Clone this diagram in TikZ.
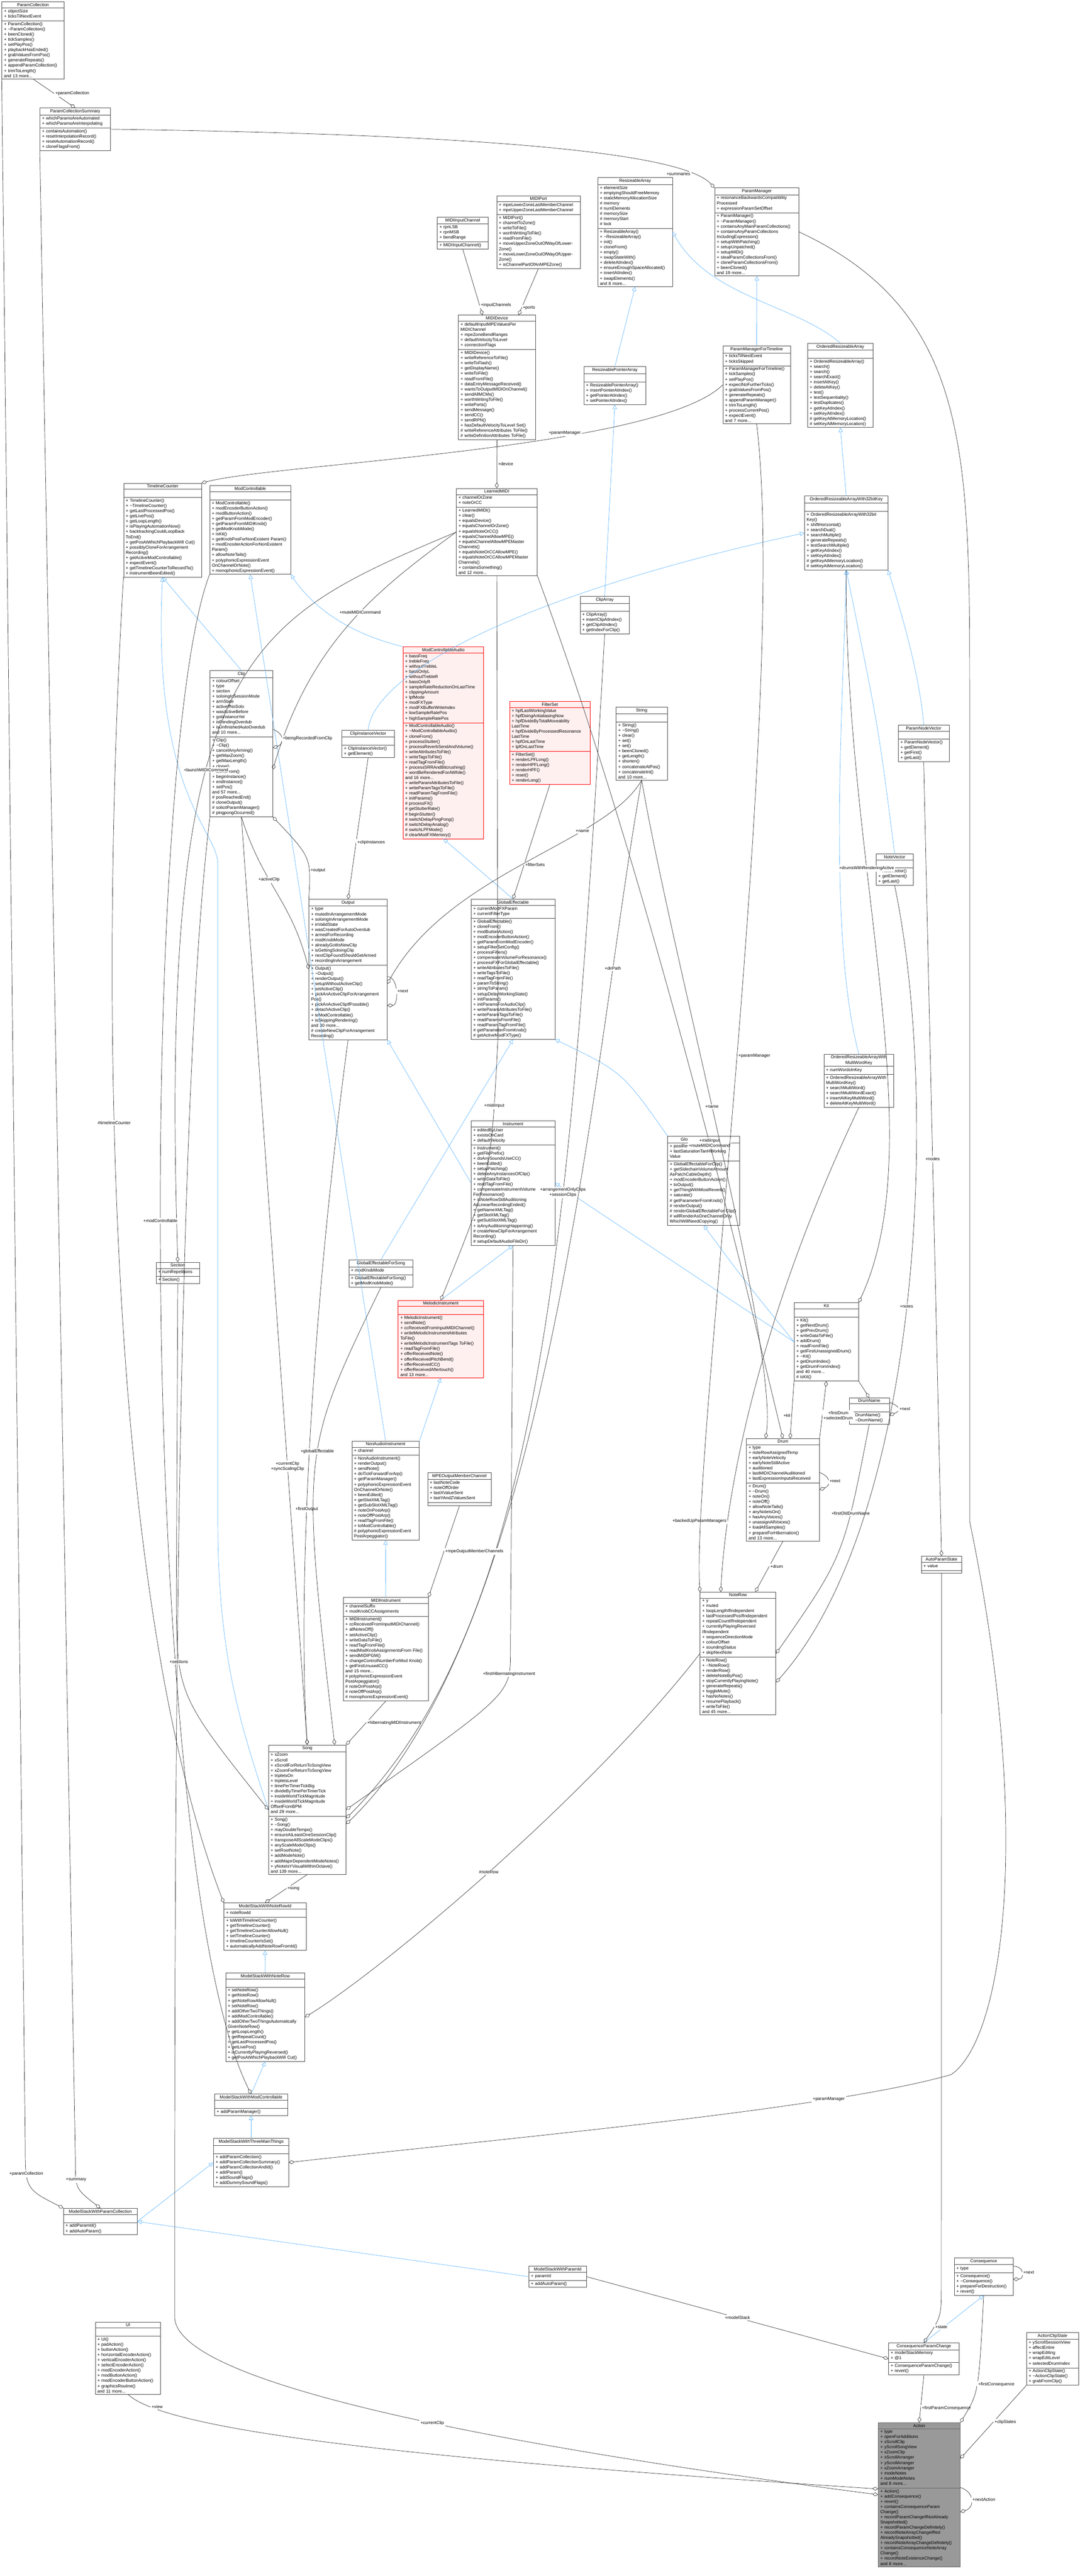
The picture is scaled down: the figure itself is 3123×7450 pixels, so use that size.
\documentclass[tikz,border=0pt]{standalone}
\usepackage{fontspec}
\setmainfont{Liberation Sans}
\usetikzlibrary{arrows.meta}
\usetikzlibrary{shapes.multipart}
\definecolor{inhblue}{RGB}{99,184,255}
\definecolor{redfill}{RGB}{255,240,240}
\definecolor{actgray}{RGB}{153,153,153}
\newcommand\umlbox[7][]{%
  \pgfmathsetmacro\umlw{#4*0.24-3}%
  \node[umlclass,text width=\umlw pt,#1] (#2) at (#3)
    {\centering #5\par\nodepart{second}\raggedright #6\strut\par\nodepart{third}\raggedright #7\par};}
\newcommand\tl{\textasciitilde}

\begin{document}
\begin{tikzpicture}[x=0.24pt,y=-0.24pt,
  umlclass/.style={rectangle split,rectangle split parts=3,draw=black!70,fill=white,
    line width=0.25pt,anchor=north west,inner xsep=1.5pt,inner ysep=0.9pt,
    font=\fontsize{3}{3.6}\selectfont},
  redclass/.style={draw=red,fill=redfill},
  grayclass/.style={fill=actgray,draw=black!60},
  agg/.style={draw=black!80,line width=0.25pt,-{Diamond[open,length=4pt,width=2.6pt]}},
  inh/.style={draw=inhblue,line width=0.25pt,-{Triangle[open,length=3pt,width=3pt]}},
  lab/.style={font=\fontsize{3}{3.6}\selectfont,inner sep=0.8pt,fill=white,align=center}]
\fill[white] (0,0) rectangle (3123,7450);

%Classes: top row
\umlbox{pcoll}{5,5}{180}{ParamCollection}{+ objectSize\\+ ticksTilNextEvent}{+ ParamCollection()\\+ \tl ParamCollection()\\+ beenCloned()\\+ tickSamples()\\+ setPlayPos()\\+ playbackHasEnded()\\+ grabValuesFromPos()\\+ generateRepeats()\\+ appendParamCollection()\\+ trimToLength()\\and 13 more...}
\umlbox{pcsum}{115,312}{204}{ParamCollectionSummary}{+ whichParamsAreAutomated\\+ whichParamsAreInterpolating}{+ containsAutomation()\\+ resetInterpolationRecord()\\+ resetAutomationRecord()\\+ cloneFlagsFrom()}
\umlbox{midiinch}{1264,627}{147}{MIDIInputChannel}{+ rpnLSB\\+ rpnMSB\\+ bendRange}{+ MIDIInputChannel()}
\umlbox{midiport}{1436,566}{241}{MIDIPort}{+ mpeLowerZoneLastMemberChannel\\+ mpeUpperZoneLastMemberChannel}{+ MIDIPort()\\+ channelToZone()\\+ writeToFile()\\+ worthWritingToFile()\\+ readFromFile()\\+ moveUpperZoneOutOfWayOfLowerZone()\\+ moveLowerZoneOutOfWayOfUpperZone()\\+ isChannelPartOfAnMPEZone()}
\umlbox{resarr}{1728,513}{216}{ResizeableArray}{+ elementSize\\+ emptyingShouldFreeMemory\\+ staticMemoryAllocationSize\\\# memory\\\# numElements\\\# memorySize\\\# memoryStart\\\# lock}{+ ResizeableArray()\\+ \tl ResizeableArray()\\+ init()\\+ cloneFrom()\\+ empty()\\+ swapStateWith()\\+ deleteAtIndex()\\+ ensureEnoughSpaceAllocated()\\+ insertAtIndex()\\+ swapElements()\\and 8 more...}
\umlbox{pmgr}{2066,543}{244}{ParamManager}{+ resonanceBackwardsCompatibility Processed\\+ expressionParamSetOffset}{+ ParamManager()\\+ \tl ParamManager()\\+ containsAnyMainParamCollections()\\+ containsAnyParamCollections IncludingExpression()\\+ setupWithPatching()\\+ setupUnpatched()\\+ setupMIDI()\\+ stealParamCollectionsFrom()\\+ cloneParamCollectionsFrom()\\+ beenCloned()\\and 19 more...}
\umlbox{mididev}{1325,911}{223}{MIDIDevice}{+ defaultInputMPEValuesPer MIDIChannel\\+ mpeZoneBendRanges\\+ defaultVelocityToLevel\\+ connectionFlags}{+ MIDIDevice()\\+ writeReferenceToFile()\\+ writeToFlash()\\+ getDisplayName()\\+ writeToFile()\\+ readFromFile()\\+ dataEntryMessageReceived()\\+ wantsToOutputMIDIOnChannel()\\+ sendAllMCMs()\\+ worthWritingToFile()\\+ writePorts()\\+ sendMessage()\\+ sendCC()\\+ sendRPN()\\+ hasDefaultVelocityToLevel Set()\\\# writeReferenceAttributes ToFile()\\\# writeDefinitionAttributes ToFile()}
\umlbox{pmft}{2090,1000}{195}{ParamManagerForTimeline}{+ ticksTilNextEvent\\+ ticksSkipped}{+ ParamManagerForTimeline()\\+ tickSamples()\\+ setPlayPos()\\+ expectNoFurtherTicks()\\+ grabValuesFromPos()\\+ generateRepeats()\\+ appendParamManager()\\+ trimToLength()\\+ processCurrentPos()\\+ expectEvent()\\and 7 more...}
\umlbox{ora}{2335,992}{189}{OrderedResizeableArray}{}{+ OrderedResizeableArray()\\+ search()\\+ search()\\+ searchExact()\\+ insertAtKey()\\+ deleteAtKey()\\+ test()\\+ testSequentiality()\\+ testDuplicates()\\+ getKeyAtIndex()\\+ setKeyAtIndex()\\\# getKeyAtMemoryLocation()\\\# setKeyAtMemoryLocation()}
\umlbox{rpa}{1688,1060}{179}{ResizeablePointerArray}{}{+ ResizeablePointerArray()\\+ insertPointerAtIndex()\\+ getPointerAtIndex()\\+ setPointerAtIndex()}
\umlbox{learned}{1319,1412}{234}{LearnedMIDI}{+ channelOrZone\\+ noteOrCC}{+ LearnedMIDI()\\+ clear()\\+ equalsDevice()\\+ equalsChannelOrZone()\\+ equalsNoteOrCC()\\+ equalsChannelAllowMPE()\\+ equalsChannelAllowMPEMaster Channels()\\+ equalsNoteOrCCAllowMPE()\\+ equalsNoteOrCCAllowMPEMaster Channels()\\+ containsSomething()\\and 12 more...}
\umlbox{tlc}{357,1397}{225}{TimelineCounter}{}{+ TimelineCounter()\\+ \tl TimelineCounter()\\+ getLastProcessedPos()\\+ getLivePos()\\+ getLoopLength()\\+ isPlayingAutomationNow()\\+ backtrackingCouldLoopBack ToEnd()\\+ getPosAtWhichPlaybackWill Cut()\\+ possiblyCloneForArrangement Recording()\\+ getActiveModControllable()\\+ expectEvent()\\+ getTimelineCounterToRecordTo()\\+ instrumentBeenEdited()}
\umlbox{modctl}{606,1404}{234}{ModControllable}{}{+ ModControllable()\\+ modEncoderButtonAction()\\+ modButtonAction()\\+ getParamFromModEncoder()\\+ getParamFromMIDIKnob()\\+ getModKnobMode()\\+ isKit()\\+ getKnobPosForNonExistent Param()\\+ modEncoderActionForNonExistent Param()\\+ allowNoteTails()\\+ polyphonicExpressionEvent OnChannelOrNote()\\+ monophonicExpressionEvent()}
\umlbox{ora32}{2326,1434}{241}{OrderedResizeableArrayWith32bitKey}{}{+ OrderedResizeableArrayWith32bit Key()\\+ shiftHorizontal()\\+ searchDual()\\+ searchMultiple()\\+ generateRepeats()\\+ testSearchMultiple()\\+ getKeyAtIndex()\\+ setKeyAtIndex()\\\# getKeyAtMemoryLocation()\\\# setKeyAtMemoryLocation()}
\umlbox{cliparr}{1677,1724}{142}{ClipArray}{}{+ ClipArray()\\+ insertClipAtIndex()\\+ getClipAtIndex()\\+ getIndexForClip()}

%Classes: middle band
\umlbox{clip}{607,1939}{181}{Clip}{+ colourOffset\\+ type\\+ section\\+ soloingInSessionMode\\+ armState\\+ activeIfNoSolo\\+ wasActiveBefore\\+ gotInstanceYet\\+ isPendingOverdub\\+ isUnfinishedAutoOverdub\\and 10 more...}{+ Clip()\\+ \tl Clip()\\+ cancelAnyArming()\\+ getMaxZoom()\\+ getMaxLength()\\+ clone()\\+ cloneFrom()\\+ beginInstance()\\+ endInstance()\\+ setPos()\\and 57 more...\\\# posReachedEnd()\\\# cloneOutput()\\\# solicitParamManager()\\\# pingpongOccurred()}
\umlbox[redclass]{mca}{1165,1870}{233}{ModControllableAudio}{+ bassFreq\\+ trebleFreq\\+ withoutTrebleL\\+ bassOnlyL\\+ withoutTrebleR\\+ bassOnlyR\\+ sampleRateReductionOnLastTime\\+ clippingAmount\\+ lpfMode\\+ modFXType\\+ modFXBufferWriteIndex\\+ lowSampleRatePos\\+ highSampleRatePos}{+ ModControllableAudio()\\+ \tl ModControllableAudio()\\+ cloneFrom()\\+ processStutter()\\+ processReverbSendAndVolume()\\+ writeAttributesToFile()\\+ writeTagsToFile()\\+ readTagFromFile()\\+ processSRRAndBitcrushing()\\+ wontBeRenderedForAWhile()\\and 16 more...\\+ writeParamAttributesToFile()\\+ writeParamTagsToFile()\\+ readParamTagFromFile()\\+ initParams()\\\# processFX()\\\# getStutterRate()\\\# beginStutter()\\\# switchDelayPingPong()\\\# switchDelayAnalog()\\\# switchLPFMode()\\\# clearModFXMemory()}
\umlbox[redclass]{filterset}{1473,2028}{233}{FilterSet}{+ hpfLastWorkingValue\\+ hpfDoingAntialiasingNow\\+ hpfDivideByTotalMoveability LastTime\\+ hpfDivideByProcessedResonance LastTime\\+ hpfOnLastTime\\+ lpfOnLastTime}{+ FilterSet()\\+ renderLPFLong()\\+ renderHPFLong()\\+ renderHPF()\\+ reset()\\+ renderLong()}
\umlbox{string}{1781,2044}{148}{String}{}{+ String()\\+ \tl String()\\+ clear()\\+ set()\\+ set()\\+ beenCloned()\\+ getLength()\\+ shorten()\\+ concatenateAtPos()\\+ concatenateInt()\\and 10 more...}
\umlbox{civ}{988,2111}{152}{ClipInstanceVector}{}{+ ClipInstanceVector()\\+ getElement()}
\umlbox{pnv}{2597,2096}{147}{ParamNodeVector}{}{+ ParamNodeVector()\\+ getElement()\\+ getFirst()\\+ getLast()}
\umlbox{notevec}{2533,2469}{107}{NoteVector}{}{+ NoteVector()\\+ getElement()\\+ getLast()}
\umlbox{output}{893,2600}{226}{Output}{+ type\\+ mutedInArrangementMode\\+ soloingInArrangementMode\\+ inValidState\\+ wasCreatedForAutoOverdub\\+ armedForRecording\\+ modKnobMode\\+ alreadyGotItsNewClip\\+ isGettingSoloingClip\\+ nextClipFoundShouldGetArmed\\+ recordingInArrangement}{+ Output()\\+ \tl Output()\\+ renderOutput()\\+ setupWithoutActiveClip()\\+ setActiveClip()\\+ pickAnActiveClipForArrangement Pos()\\+ pickAnActiveClipIfPossible()\\+ detachActiveClip()\\+ toModControllable()\\+ isSkippingRendering()\\and 30 more...\\\# createNewClipForArrangement Recording()}
\umlbox{geff}{1362,2600}{242}{GlobalEffectable}{+ currentModFXParam\\+ currentFilterType}{+ GlobalEffectable()\\+ cloneFrom()\\+ modButtonAction()\\+ modEncoderButtonAction()\\+ getParamFromModEncoder()\\+ setupFilterSetConfig()\\+ processFilters()\\+ compensateVolumeForResonance()\\+ processFXForGlobalEffectable()\\+ writeAttributesToFile()\\+ writeTagsToFile()\\+ readTagFromFile()\\+ paramToString()\\+ stringToParam()\\+ setupDelayWorkingState()\\+ initParams()\\+ initParamsForAudioClip()\\+ writeParamAttributesToFile()\\+ writeParamTagsToFile()\\+ readParamsFromFile()\\+ readParamTagFromFile()\\\# getParameterFromKnob()\\\# getActiveModFXType()}
\umlbox{oramw}{2382,3048}{202}{OrderedResizeableArrayWith MultiWordKey}{+ numWordsInKey}{+ OrderedResizeableArrayWith MultiWordKey()\\+ searchMultiWord()\\+ searchMultiWordExact()\\+ insertAtKeyMultiWord()\\+ deleteAtKeyMultiWord()}
\umlbox{instr}{1362,3241}{242}{Instrument}{+ editedByUser\\+ existsOnCard\\+ defaultVelocity}{+ Instrument()\\+ getFilePrefix()\\+ doAnySoundsUseCC()\\+ beenEdited()\\+ setupPatching()\\+ deleteAnyInstancesOfClip()\\+ writeDataToFile()\\+ readTagFromFile()\\+ compensateInstrumentVolume ForResonance()\\+ isNoteRowStillAuditioning AsLinearRecordingEnded()\\+ getNameXMLTag()\\+ getSlotXMLTag()\\+ getSubSlotXMLTag()\\+ isAnyAuditioningHappening()\\\# createNewClipForArrangement Recording()\\\# setupDefaultAudioFileDir()}
\umlbox{gefclip}{1930,3285}{208}{GlobalEffectableForClip}{+ postReverbVolumeLastTime\\+ lastSaturationTanHWorking Value}{+ GlobalEffectableForClip()\\+ getSidechainVolumeAmount AsPatchCableDepth()\\+ modEncoderButtonAction()\\+ toOutput()\\+ getThingWithMostReverb()\\+ saturate()\\\# getParameterFromKnob()\\\# renderOutput()\\\# renderGlobalEffectableFor Clip()\\\# willRenderAsOneChannelOnly WhichWillNeedCopying()}
\umlbox{section}{451,3650}{125}{Section}{+ numRepetitions}{+ Section()}
\umlbox{gefsong}{1008,3643}{186}{GlobalEffectableForSong}{+ modKnobMode}{+ GlobalEffectableForSong()\\+ getModKnobMode()}
\umlbox[redclass]{melodic}{1151,3760}{246}{MelodicInstrument}{}{+ MelodicInstrument()\\+ sendNote()\\+ ccReceivedFromInputMIDIChannel()\\+ writeMelodicInstrumentAttributes ToFile()\\+ writeMelodicInstrumentTags ToFile()\\+ readTagFromFile()\\+ offerReceivedNote()\\+ offerReceivedPitchBend()\\+ offerReceivedCC()\\+ offerReceivedAftertouch()\\and 13 more...}
\umlbox{kit}{2296,3767}{186}{Kit}{}{+ Kit()\\+ getNextDrum()\\+ getPrevDrum()\\+ writeDataToFile()\\+ addDrum()\\+ readFromFile()\\+ getFirstUnassignedDrum()\\+ \tl Kit()\\+ getDrumIndex()\\+ getDrumFromIndex()\\and 40 more...\\\# isKit()}

%Classes: lower band
\umlbox{drumname}{2455,4042}{116}{DrumName}{}{+ DrumName()\\+ \tl DrumName()}
\umlbox{nonaudio}{1017,4167}{195}{NonAudioInstrument}{+ channel}{+ NonAudioInstrument()\\+ renderOutput()\\+ sendNote()\\+ doTickForwardForArp()\\+ getParamManager()\\+ polyphonicExpressionEvent OnChannelOrNote()\\+ beenEdited()\\+ getSlotXMLTag()\\+ getSubSlotXMLTag()\\+ noteOnPostArp()\\+ noteOffPostArp()\\+ readTagFromFile()\\+ toModControllable()\\\# polyphonicExpressionEvent PostArpeggiator()}
\umlbox{drum}{2158,4160}{211}{Drum}{+ type\\+ noteRowAssignedTemp\\+ earlyNoteVelocity\\+ earlyNoteStillActive\\+ auditioned\\+ lastMIDIChannelAuditioned\\+ lastExpressionInputsReceived}{+ Drum()\\+ \tl Drum()\\+ noteOn()\\+ noteOff()\\+ allowNoteTails()\\+ anyNoteIsOn()\\+ hasAnyVoices()\\+ unassignAllVoices()\\+ loadAllSamples()\\+ prepareForHibernation()\\and 13 more...}
\umlbox{mpeoch}{1236,4258}{184}{MPEOutputMemberChannel}{+ lastNoteCode\\+ noteOffOrder\\+ lastXValueSent\\+ lastYAndZValuesSent}{}
\umlbox{autops}{2664,4500}{116}{AutoParamState}{+ value}{}
\umlbox{noterow}{2024,4604}{219}{NoteRow}{+ y\\+ muted\\+ loopLengthIfIndependent\\+ lastProcessedPosIfIndependent\\+ repeatCountIfIndependent\\+ currentlyPlayingReversed IfIndependent\\+ sequenceDirectionMode\\+ colourOffset\\+ soundingStatus\\+ skipNextNote}{+ NoteRow()\\+ \tl NoteRow()\\+ renderRow()\\+ deleteNoteByPos()\\+ stopCurrentlyPlayingNote()\\+ generateRepeats()\\+ toggleMute()\\+ hasNoNotes()\\+ resumePlayback()\\+ writeToFile()\\and 45 more...}
\umlbox{midiinstr}{992,4619}{246}{MIDIInstrument}{+ channelSuffix\\+ modKnobCCAssignments}{+ MIDIInstrument()\\+ ccReceivedFromInputMIDIChannel()\\+ allNotesOff()\\+ setActiveClip()\\+ writeDataToFile()\\+ readTagFromFile()\\+ readModKnobAssignmentsFrom File()\\+ sendMIDIPGM()\\+ changeControlNumberForMod Knob()\\+ getFirstUnusedCC()\\and 15 more...\\\# polyphonicExpressionEvent PostArpeggiator()\\\# noteOnPostArp()\\\# noteOffPostArp()\\\# monophonicExpressionEvent()}
\umlbox{song}{776,5046}{224}{Song}{+ xZoom\\+ xScroll\\+ xScrollForReturnToSongView\\+ xZoomForReturnToSongView\\+ tripletsOn\\+ tripletsLevel\\+ timePerTimerTickBig\\+ divideByTimePerTimerTick\\+ insideWorldTickMagnitude\\+ insideWorldTickMagnitude OffsetFromBPM\\and 29 more...}{+ Song()\\+ \tl Song()\\+ mayDoubleTempo()\\+ ensureAtLeastOneSessionClip()\\+ transposeAllScaleModeClips()\\+ anyScaleModeClips()\\+ setRootNote()\\+ addModeNote()\\+ addMajorDependentModeNotes()\\+ yNoteIsYVisualWithinOctave()\\and 139 more...}
\umlbox{msnrid}{647,5503}{238}{ModelStackWithNoteRowId}{+ noteRowId}{+ toWithTimelineCounter()\\+ getTimelineCounter()\\+ getTimelineCounterAllowNull()\\+ setTimelineCounter()\\+ timelineCounterIsSet()\\+ automaticallyAddNoteRowFromId()}
\umlbox{msnr}{652,5705}{229}{ModelStackWithNoteRow}{}{+ setNoteRow()\\+ getNoteRow()\\+ getNoteRowAllowNull()\\+ setNoteRow()\\+ addOtherTwoThings()\\+ addModControllable()\\+ addOtherTwoThingsAutomatically GivenNoteRow()\\+ getLoopLength()\\+ getRepeatCount()\\+ getLastProcessedPos()\\+ getLivePos()\\+ isCurrentlyPlayingReversed()\\+ getPosAtWhichPlaybackWill Cut()}
\umlbox{msmc}{620,6056}{211}{ModelStackWithModControllable}{}{+ addParamManager()}
\umlbox{ms3}{617,6184}{217}{ModelStackWithThreeMainThings}{}{+ addParamCollection()\\+ addParamCollectionSummary()\\+ addParamCollectionAndId()\\+ addParam()\\+ addSoundFlags()\\+ addDummySoundFlags()}
\umlbox{mspc}{183,6386}{213}{ModelStackWithParamCollection}{}{+ addParamId()\\+ addAutoParam()}
\umlbox{conseq}{2759,6529}{170}{Consequence}{+ type}{+ Consequence()\\+ \tl Consequence()\\+ prepareForDestruction()\\+ revert()}
\umlbox{mspid}{1529,6553}{166}{ModelStackWithParamId}{+ paramId}{+ addAutoParam()}
\umlbox{ui}{275,6715}{189}{UI}{}{+ UI()\\+ padAction()\\+ buttonAction()\\+ horizontalEncoderAction()\\+ verticalEncoderAction()\\+ selectEncoderAction()\\+ modEncoderAction()\\+ modButtonAction()\\+ modEncoderButtonAction()\\+ graphicsRoutine()\\and 11 more...}
\umlbox{acs}{2968,6745}{150}{ActionClipState}{+ yScrollSessionView\\+ affectEntire\\+ wrapEditing\\+ wrapEditLevel\\+ selectedDrumIndex}{+ ActionClipState()\\+ \tl ActionClipState()\\+ grabFromClip()}
\umlbox{cpc}{2569,6775}{204}{ConsequenceParamChange}{+ modelStackMemory\\+ @1}{+ ConsequenceParamChange()\\+ revert()}
\umlbox[grayclass]{action}{2539,7006}{237}{Action}{+ type\\+ openForAdditions\\+ xScrollClip\\+ yScrollSongView\\+ xZoomClip\\+ xScrollArranger\\+ yScrollArranger\\+ xZoomArranger\\+ modeNotes\\+ numModeNotes\\and 8 more...}{+ Action()\\+ addConsequence()\\+ revert()\\+ containsConsequenceParam Change()\\+ recordParamChangeIfNotAlready Snapshotted()\\+ recordParamChangeDefinitely()\\+ recordNoteArrayChangeIfNot AlreadySnapshotted()\\+ recordNoteArrayChangeDefinitely()\\+ containsConsequenceNoteArray Change()\\+ recordNoteExistenceChange()\\and 8 more...}

%Inheritance
\draw[inh] (rpa.north) -- (resarr.south);
\draw[inh] (cliparr.north) -- (rpa.south);
\draw[inh] (pmft.north) -- (pmgr.south);
\draw[inh] (ora.north) .. controls (2300,880) and (2050,860) .. (resarr.east);
\draw[inh] (ora32.north) -- (ora.south);
\draw[inh] (pnv.north) .. controls (2660,1950) and (2600,1750) .. (ora32.south east);
\draw[inh] (notevec.north) .. controls (2540,2100) .. (ora32.south);
\draw[inh] (oramw.north) .. controls (2390,2700) and (2440,2000) .. (ora32.south);
\draw[inh] (civ.north) .. controls (1080,1950) and (1500,1720) .. (ora32.west);
\draw[inh] (clip.north) -- (tlc.south);
\draw[inh] (song.west) .. controls (700,5000) and (630,4800) .. (630,4400) -- (630,2500) .. controls (630,2400) and (440,2300) .. (tlc.south);
\draw[inh] (mca.north west) .. controls (1000,1830) and (900,1750) .. (modctl.south east);
\draw[inh] (nonaudio.north) -- (modctl.south);
\draw[inh] (nonaudio.north east) -- (melodic.south);
\draw[inh] (melodic.north) -- (instr.south);
\draw[inh] (instr.west) -- (output.south east);
\draw[inh] (geff.north) -- (mca.south);
\draw[inh] (gefsong.north) -- (geff.south);
\draw[inh] (gefclip.north west) .. controls (1800,3100) .. (geff.south east);
\draw[inh] (kit.west) .. controls (2150,3700) .. (gefclip.south);
\draw[inh] (kit.west) -- (instr.east);
\draw[inh] (midiinstr.north) -- (nonaudio.south);
\draw[inh] (msnr.north) -- (msnrid.south);
\draw[inh] (msmc.north) -- (msnr.south);
\draw[inh] (ms3.north) -- (msmc.south);
\draw[inh] (mspc.east) -- (ms3.west);
\draw[inh] (mspid.west) -- (mspc.east);
\draw[inh] (cpc.north) -- (conseq.south);

%Aggregation
\draw[agg] (pcoll.south) -- (pcsum.north) node[lab,right,pos=0.5]{+paramCollection};
\draw[agg] (pcsum.east) .. controls (1500,390) and (1980,450) .. (pmgr.north west) node[lab,pos=0.85,left]{+summaries};
\draw[agg] (midiinch.south) -- ([xshift=-10pt]mididev.north) node[lab,pos=0.85,right]{+inputChannels};
\draw[agg] (midiport.south) -- ([xshift=15pt]mididev.north) node[lab,pos=0.85,right]{+ports};
\draw[agg] (mididev.south) -- (learned.north) node[lab,pos=0.5,right]{+device};
\draw[agg] (pmft.west) .. controls (1900,1300) and (800,1340) .. (tlc.north east) node[lab,pos=0.35,above]{+paramManager};
\draw[agg] (learned.west) .. controls (1100,1700) and (900,1850) .. ([yshift=-18pt]clip.east) node[lab,pos=0.45]{+muteMIDICommand};
\draw[agg] ([yshift=10pt]clip.east) .. controls +(8pt,-3pt) and +(8pt,3pt) .. ([yshift=-3pt]clip.east) node[lab,pos=0.5,right]{+beingRecordedFromClip};
\draw[agg] (clip.south) .. controls (760,2560) and (840,2600) .. (output.west) node[lab,pos=0.4]{+activeClip};
\draw[agg] (output.north west) .. controls (900,2480) .. (clip.south east) node[lab,pos=0.3,right]{+output};
\draw[agg] (civ.south) -- (output.north) node[lab,pos=0.6,right]{+clipInstances};
\draw[agg] ([yshift=-5pt]output.east) .. controls +(8pt,0pt) and +(8pt,0pt) .. ([yshift=-25pt]output.east) node[lab,pos=0.5,right]{+next};
\draw[agg] (filterset.south) -- (geff.north) node[lab,pos=0.7,right]{+filterSets};
\draw[agg] (string.south) .. controls (1750,2440) and (1300,2520) .. ([yshift=-10pt]output.east) node[lab,pos=0.3]{+name};
\draw[agg] (learned.south) -- (1440,3000) .. controls (1420,3400) .. (melodic.north) node[lab,pos=0.2]{+midiInput};
\draw[agg] (learned.west) .. controls (700,1800) and (460,1900) .. (section.north) node[lab,pos=0.6]{+launchMIDICommand};
\draw[agg] (clip.south) -- (song.north) node[lab,pos=0.7]{+currentClip\\+syncScalingClip};
\draw[agg] (pcoll.south west) -- (73,6200) .. controls (73,6330) .. (mspc.north west) node[lab,pos=0.3]{+paramCollection};
\draw[agg] (pcsum.south west) -- (218,6250) .. controls (218,6330) .. (mspc.north) node[lab,pos=0.3]{+summary};
\draw[agg] (tlc.south west) .. controls (290,2800) and (300,4600) .. (msnrid.north west) node[lab,pos=0.4]{\#timelineCounter};
\draw[agg] (modctl.south west) .. controls (400,2200) and (400,5400) .. (msmc.north) node[lab,pos=0.45]{+modControllable};
\draw[agg] (section.south) -- (510,4600) .. controls (510,4900) .. (song.west) node[lab,pos=0.3]{+sections};
\draw[agg] (output.south) .. controls (900,3800) and (860,4600) .. (song.north) node[lab,pos=0.6]{+firstOutput};
\draw[agg] (gefsong.south) .. controls (870,4200) .. ([xshift=-8pt]song.north east) node[lab,pos=0.45]{+globalEffectable};
\draw[agg] (midiinstr.south) -- (song.north east) node[lab,pos=0.5,right]{+hibernatingMIDIInstrument};
\draw[agg] (instr.south) -- (1476,4780) .. controls (1476,4900) .. (song.east) node[lab,pos=0.2]{+firstHibernatingInstrument};
\draw[agg] (cliparr.south) .. controls (1650,3600) and (1560,4700) .. ([yshift=-6pt]song.east) node[lab,pos=0.35]{+arrangementOnlyClips\\+sessionClips};
\draw[agg] (string.south) .. controls (1720,3000) and (1600,4700) .. ([yshift=-10pt]song.east) node[lab,pos=0.2]{+dirPath};
\draw[agg] (mpeoch.south) -- (midiinstr.north east) node[lab,pos=0.5,right]{+mpeOutputMemberChannels};
\draw[agg] (song.south) -- (msnrid.north) node[lab,pos=0.5,right]{+song};
\draw[agg] (noterow.west) .. controls (1700,5200) and (1100,5700) .. (msnr.east) node[lab,pos=0.5]{\#noteRow};
\draw[agg] (learned.south east) .. controls (1900,2600) and (2200,3900) .. (drum.north) node[lab,pos=0.55]{+midiInput\\+muteMIDICommand};
\draw[agg] (string.south) .. controls (1950,2800) and (2250,3900) .. ([xshift=-12pt]drum.north) node[lab,pos=0.45]{+name};
\draw[agg] (oramw.south) .. controls (2200,3800) and (2100,4300) .. ([xshift=-12pt]noterow.north) node[lab,pos=0.8,left]{+backedUpParamManagers};
\draw[agg] (pmft.south) .. controls (2280,2000) and (2000,4200) .. (noterow.north west) node[lab,pos=0.5,right]{+paramManager};
\draw[agg] (kit.south west) -- ([xshift=5pt]drum.north) node[lab,pos=0.6,left]{+kit};
\draw[agg] (drum.north east) -- (kit.south) node[lab,pos=0.4,right]{+firstDrum\\+selectedDrum};
\draw[agg] (kit.south east) -- (drumname.north);
\draw[agg] ([yshift=6pt]drumname.east) .. controls +(8pt,-3pt) and +(8pt,3pt) .. ([yshift=-3pt]drumname.east) node[lab,pos=0.5,right]{+next};
\draw[agg] ([yshift=12pt]drum.east) .. controls +(8pt,-3pt) and +(8pt,3pt) .. (drum.east) node[lab,pos=0.5,right]{+next};
\draw[agg] (drum.south) -- ([xshift=12pt]noterow.north) node[lab,pos=0.5,right]{+drum};
\draw[agg] (drumname.south) .. controls (2440,4500) .. (noterow.east) node[lab,pos=0.3]{+firstOldDrumName};
\draw[agg] (notevec.south) .. controls (2720,3200) and (2660,4400) .. ([yshift=-20pt]noterow.east) node[lab,pos=0.5]{+notes};
\draw[agg] (ora32.south) .. controls (2440,2500) and (2700,3300) .. (kit.north east) node[lab,pos=0.35]{+drumsWithRenderingActive};
\draw[agg] (pnv.south) -- (autops.north) node[lab,pos=0.5]{+nodes};
\draw[agg] (pmgr.east) .. controls (2800,900) and (2804,1300) .. (2804,2000) -- (2804,4400) .. controls (2990,5300) and (2900,5900) .. (2750,6000) .. controls (2400,6100) and (1500,6180) .. (ms3.east) node[lab,pos=0.25]{+paramManager};
\draw[agg] (autops.south) -- (2722,6600) .. controls (2722,6700) .. (cpc.north) node[lab,pos=0.75,right]{+state};
\draw[agg] (mspid.east) -- (cpc.west) node[lab,pos=0.5]{+modelStack};
\draw[agg] (cpc.south) -- (action.north) node[lab,pos=0.7,right]{+firstParamConsequence};
\draw[agg] (conseq.south) .. controls (2830,6920) .. (action.north east) node[lab,pos=0.5,right]{+firstConsequence};
\draw[agg] (acs.south west) -- ([yshift=-25pt]action.north east) node[lab,pos=0.5,right]{+clipStates};
\draw[agg] ([yshift=-6pt]conseq.north east) .. controls +(8pt,0pt) and +(8pt,0pt) .. ([yshift=-15pt]conseq.north east) node[lab,pos=0.5,right]{+next};
\draw[agg] ([yshift=5pt]action.east) .. controls +(10pt,-3pt) and +(10pt,3pt) .. ([yshift=-12pt]action.east) node[lab,pos=0.5,right]{+nextAction};
\draw[agg] (ui.south) .. controls (500,7050) and (1500,7130) .. ([yshift=4pt]action.west) node[lab,pos=0.1,right]{+view};
\draw[agg] (clip.south west) .. controls (505,3200) and (505,5500) .. (505,6700) .. controls (505,6900) and (1500,7080) .. (action.west) node[lab,pos=0.55]{+currentClip};
\end{tikzpicture}
\end{document}
